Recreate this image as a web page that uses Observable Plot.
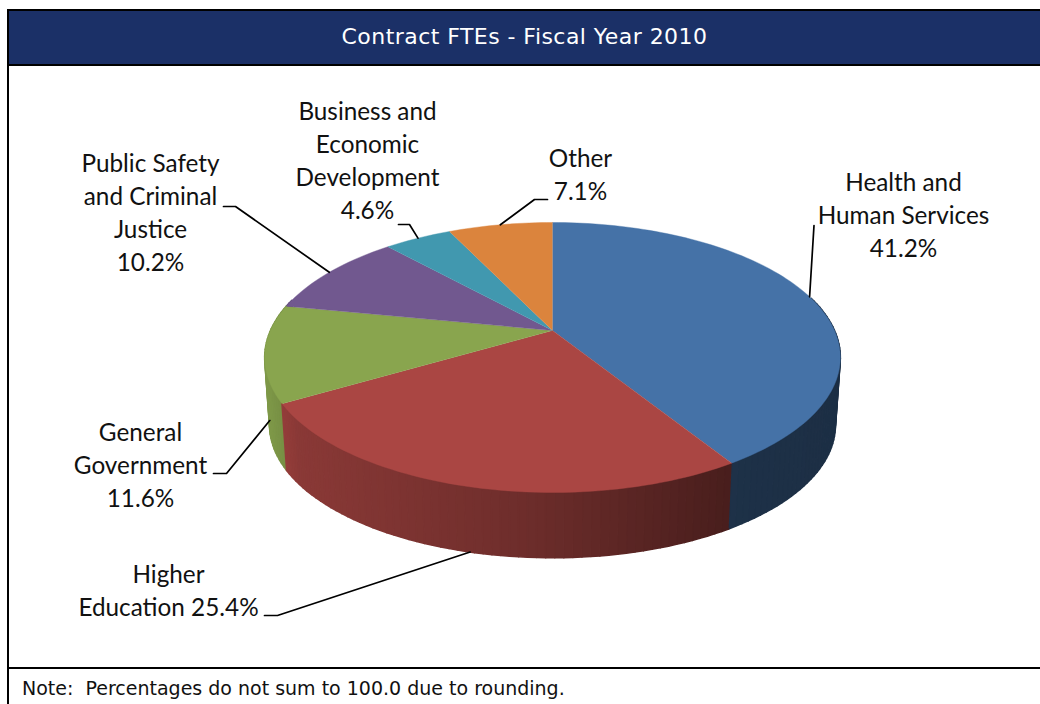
<!DOCTYPE html>
<html><head><meta charset="utf-8">
<script src="https://cdn.jsdelivr.net/npm/d3@7"></script>
<script src="https://cdn.jsdelivr.net/npm/@observablehq/plot@0.6"></script>
<style>
html,body{margin:0;padding:0;background:#fff;overflow:hidden}
#frame{position:absolute;left:7px;top:9px;width:1033px;border-left:2px solid #000;border-top:2px solid #000;box-sizing:border-box;height:695px}
#title{height:53px;background:#1b3067;border-bottom:2px solid #000;color:#fff;font:22px "DejaVu Sans",sans-serif;letter-spacing:.45px;text-align:center;line-height:52px;box-sizing:content-box}
#chart svg{display:block}
#note{border-top:2px solid #000;font:19px "DejaVu Sans",sans-serif;color:#111;padding-left:13px;line-height:38px;white-space:pre}
</style></head><body>
<div id="frame">
<div id="title">Contract FTEs - Fiscal Year 2010</div>
<div id="chart"></div>
<div id="note">Note:  Percentages do not sum to 100.0 due to rounding.</div>
</div>
<script>
// Data
const categories = ["Health and Human Services","Higher Education","General Government","Public Safety and Criminal Justice","Business and Economic Development","Other"];
const shares = [41.2,25.4,11.6,10.2,4.6,7.1];
const colors = ["#4572a7","#aa4643","#89a54e","#71588f","#4198af","#db843d"];
const labelLines = [["Health and","Human Services"],["Higher","Education"],["General","Government"],["Public Safety","and Criminal","Justice"],["Business and","Economic","Development"],["Other"]];

// Label placement (page pixels): label centre, leader elbow, leader start
const labelPlace = [
  {cx:903,cy:213,path:[[813.5,225]],rim:"top"},
  {cx:168,cy:588.5,path:[[264,615],[277,615]],rim:"bottom"},
  {cx:140,cy:463,path:[[213,473],[226,473]],rim:"bottom"},
  {cx:150,cy:210,path:[[223,206],[235,206]],rim:"top"},
  {cx:367,cy:158,path:[[398,224],[409,224]],rim:"top"},
  {cx:580,cy:172,path:[[547,199],[534,199]],rim:"top"}
];

// Perspective of the tilted disc
const hub = {x:552,y:330,a:282,b:129.6,k:0.2};
const base = {y:398,s:0.983};
function rim(theta, level){
  const X=Math.sin(theta),Y=Math.cos(theta),w=1+hub.k*Y;
  const px=hub.a*X/w,py=-hub.b*Y/w;
  return level==="bottom"?[hub.x+px*base.s,base.y+py*base.s]:[hub.x+px,hub.y+py];
}
const total=d3.sum(shares);
let acc=0;
const slices=shares.map((v,i)=>{const a0=acc/total*2*Math.PI;acc+=v;const a1=acc/total*2*Math.PI;return {i,a0,a1,name:categories[i],color:colors[i],value:v};});

const shade=d3.scaleLinear().domain([270,300,520,725,840]).range([.92,.81,.65,.43,.41]).clamp(true);
function darken(hex,f){const c=d3.rgb(hex);return d3.rgb(c.r*f,c.g*f,c.b*f).formatHex();}

const face=[],wall=[];
const stepAngle=Math.PI/120;
for(const s of slices){
  const n=Math.max(2,Math.ceil((s.a1-s.a0)/stepAngle));
  face.push({x:hub.x,y:hub.y,z:s.name,fill:s.color});
  for(let j=0;j<=n;j++){
    const t=s.a0+(s.a1-s.a0)*j/n;
    const [x,y]=rim(t,"top");
    face.push({x,y,z:s.name,fill:s.color});
    if(j<n){
      const t2=s.a0+(s.a1-s.a0)*(j+1)/n;
      if(Math.cos((t+t2)/2)<0.25){
        // each strip overlaps the next-drawn neighbour so no seams show
        const q=[rim(t,"top"),rim(t2,"top"),rim(t2,"bottom"),rim(t,"bottom")];
        const mx=d3.mean(q,d=>d[0]);
        const fill=darken(s.color,shade(mx));
        const id=s.name+"-"+j;
        const depth=Math.cos((t+t2)/2);
        for(const [qx,qy] of q) wall.push({x:qx,y:qy,z:id,fill,depth});
      }
    }
  }
}
wall.sort((a,b)=>d3.descending(a.depth,b.depth));

const leaders=[],labels=[];
slices.forEach((s,i)=>{
  const p=labelPlace[i];
  const end=rim((s.a0+s.a1)/2,p.rim);
  [...p.path,end].forEach(([x,y])=>leaders.push({x,y,z:s.name}));
  const pct=s.value.toFixed(1)+"%";
  const lines=labelLines[i];
  const text=i===1?lines[0]+"\n"+lines[1]+" "+pct:lines.join("\n")+"\n"+pct;
  labels.push({x:p.cx,y:p.cy,text});
});

const W=1031,H=601,originX=9,originY=66;
const plot=Plot.plot({
  width:W,height:H,margin:0,
  x:{domain:[originX,originX+W],range:[0,W],axis:null},
  y:{domain:[originY,originY+H],range:[0,H],axis:null},
  color:{type:"identity"},
  marks:[
    Plot.line(wall,{x:"x",y:"y",z:"z",fill:"fill",stroke:"fill",strokeWidth:1.6,strokeLinejoin:"round"}),
    Plot.line(face,{x:"x",y:"y",z:"z",fill:"fill",stroke:"fill",strokeWidth:0.4}),
    Plot.line(leaders,{x:"x",y:"y",z:"z",stroke:"#000",strokeWidth:1.7}),
    Plot.text(labels,{x:"x",y:"y",text:"text",fontSize:24.3,lineHeight:1.36,fontFamily:"Lato",fill:"#111",textAnchor:"middle"})
  ]
});
document.getElementById("chart").appendChild(plot);
</script>
</body></html>
